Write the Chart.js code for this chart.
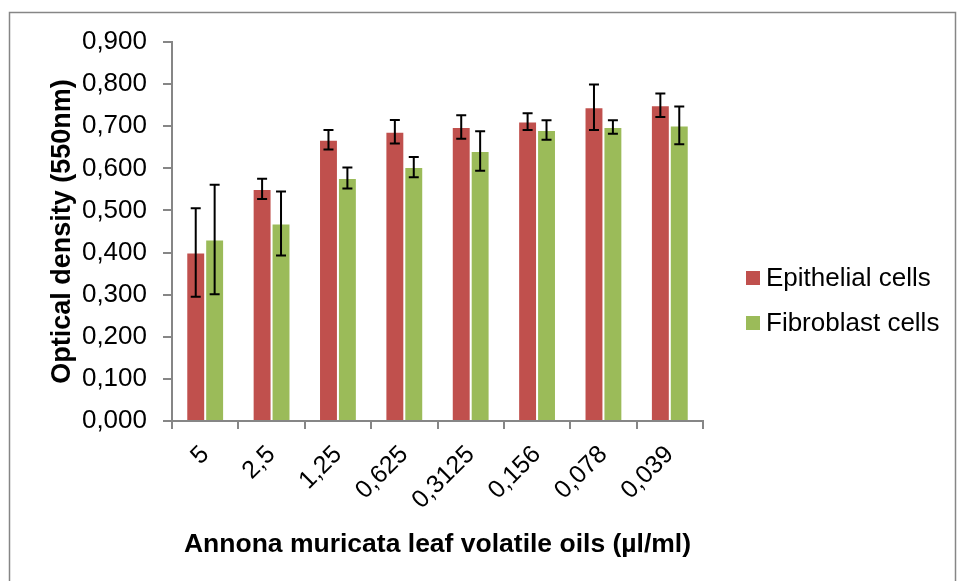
<!DOCTYPE html>
<html>
<head>
<meta charset="utf-8">
<script src="https://cdn.jsdelivr.net/npm/chart.js@4.4.0/dist/chart.umd.min.js"></script>
<style>
  html, body { margin: 0; padding: 0; background: #fff; }
  #wrap { width: 957px; height: 581px; }
</style>
</head>
<body>
<div id="wrap"><canvas id="bar_chart" width="957" height="581"></canvas></div>
<script>
// concentrations (µl/ml)
const labels = ['5', '2,5', '1,25', '0,625', '0,3125', '0,156', '0,078', '0,039'];

const epithelial    = [0.400, 0.551, 0.668, 0.687, 0.698, 0.711, 0.745, 0.750];
const epithelialErr = [0.105, 0.024, 0.023, 0.028, 0.028, 0.020, 0.054, 0.028];

const fibroblast    = [0.431, 0.469, 0.577, 0.603, 0.641, 0.691, 0.698, 0.702];
const fibroblastErr = [0.130, 0.076, 0.025, 0.024, 0.047, 0.023, 0.016, 0.045];

const RED = '#C0504D';
const GREEN = '#9BBB59';
const AXIS = '#868686';
const FONT = '"Liberation Sans", Arial, sans-serif';

// error bars drawn on top of the bars
const errorBars = {
    id: 'errorBars',
    afterDatasetsDraw(chart) {
        const ctx = chart.ctx;
        const y = chart.scales.y;
        ctx.save();
        ctx.strokeStyle = '#000';
        ctx.lineWidth = 2;
        chart.data.datasets.forEach((ds, i) => {
            const meta = chart.getDatasetMeta(i);
            meta.data.forEach((bar, j) => {
                const v = ds.data[j];
                const e = ds.errors[j];
                const top = y.getPixelForValue(v + e);
                const bot = y.getPixelForValue(v - e);
                const x = bar.x;
                ctx.beginPath();
                ctx.moveTo(x, top); ctx.lineTo(x, bot);
                ctx.moveTo(x - 5, top); ctx.lineTo(x + 5, top);
                ctx.moveTo(x - 5, bot); ctx.lineTo(x + 5, bot);
                ctx.stroke();
            });
        });
        ctx.restore();
    }
};

// white page, gray frame and the legend on the right
const frameAndLegend = {
    id: 'frameAndLegend',
    beforeDraw(chart) {
        const ctx = chart.ctx;
        ctx.save();
        ctx.fillStyle = '#fff';
        ctx.fillRect(0, 0, chart.width, chart.height);
        ctx.strokeStyle = AXIS;
        ctx.lineWidth = 1.5;
        ctx.strokeRect(9.5, 12.5, 946, 600);
        ctx.restore();
    },
    afterDraw(chart) {
        const ctx = chart.ctx;
        ctx.save();
        ctx.font = '26px ' + FONT;
        ctx.textBaseline = 'middle';
        chart.data.datasets.forEach((ds, i) => {
            const yy = 278 + i * 45;
            ctx.fillStyle = ds.backgroundColor;
            ctx.fillRect(746, yy - 7, 14, 14);
            ctx.fillStyle = '#000';
            ctx.fillText(ds.label, 766, yy + 1);
        });
        ctx.restore();
    }
};

new Chart(document.getElementById('bar_chart').getContext('2d'), {
    type: 'bar',
    data: {
        labels: labels,
        datasets: [{
            label: 'Epithelial cells',
            data: epithelial,
            errors: epithelialErr,
            backgroundColor: RED,
            borderColor: 'rgba(255,255,255,0.5)',
            borderWidth: 1
        }, {
            label: 'Fibroblast cells',
            data: fibroblast,
            errors: fibroblastErr,
            backgroundColor: GREEN,
            borderColor: 'rgba(255,255,255,0.5)',
            borderWidth: 1
        }]
    },
    options: {
        responsive: false,
        animation: false,
        devicePixelRatio: 1,
        categoryPercentage: 0.57,
        barPercentage: 1,
        layout: { padding: { top: 42, right: 254, bottom: 0, left: 0 } },
        plugins: {
            legend: { display: false },
            tooltip: { enabled: false }
        },
        scales: {
            x: {
                grid: { drawOnChartArea: false, color: AXIS, tickLength: 8, lineWidth: 2 },
                border: { color: AXIS, width: 2 },
                ticks: {
                    color: '#000',
                    font: { family: FONT, size: 25 },
                    minRotation: 45,
                    maxRotation: 45,
                    padding: 11
                },
                title: {
                    display: true,
                    text: 'Annona muricata leaf volatile oils (µl/ml)',
                    color: '#000',
                    font: { family: FONT, size: 26.5, weight: 'bold' },
                    padding: { top: 0, bottom: 20 }
                },
                afterFit(scale) { scale.height = 160; }
            },
            y: {
                min: 0,
                max: 0.9,
                grid: { drawOnChartArea: false, color: AXIS, tickLength: 9, lineWidth: 2 },
                border: { color: AXIS, width: 2 },
                ticks: {
                    stepSize: 0.1,
                    color: '#000',
                    padding: 16,
                    font: { family: FONT, size: 26 },
                    callback: v => v.toFixed(3).replace('.', ',')
                },
                title: {
                    display: true,
                    text: 'Optical density (550nm)',
                    color: '#000',
                    font: { family: FONT, size: 27, weight: 'bold' },
                    padding: { top: 46, bottom: 0 }
                },
                afterFit(scale) { scale.width = 172; }
            }
        }
    },
    plugins: [errorBars, frameAndLegend]
});
</script>
</body>
</html>
